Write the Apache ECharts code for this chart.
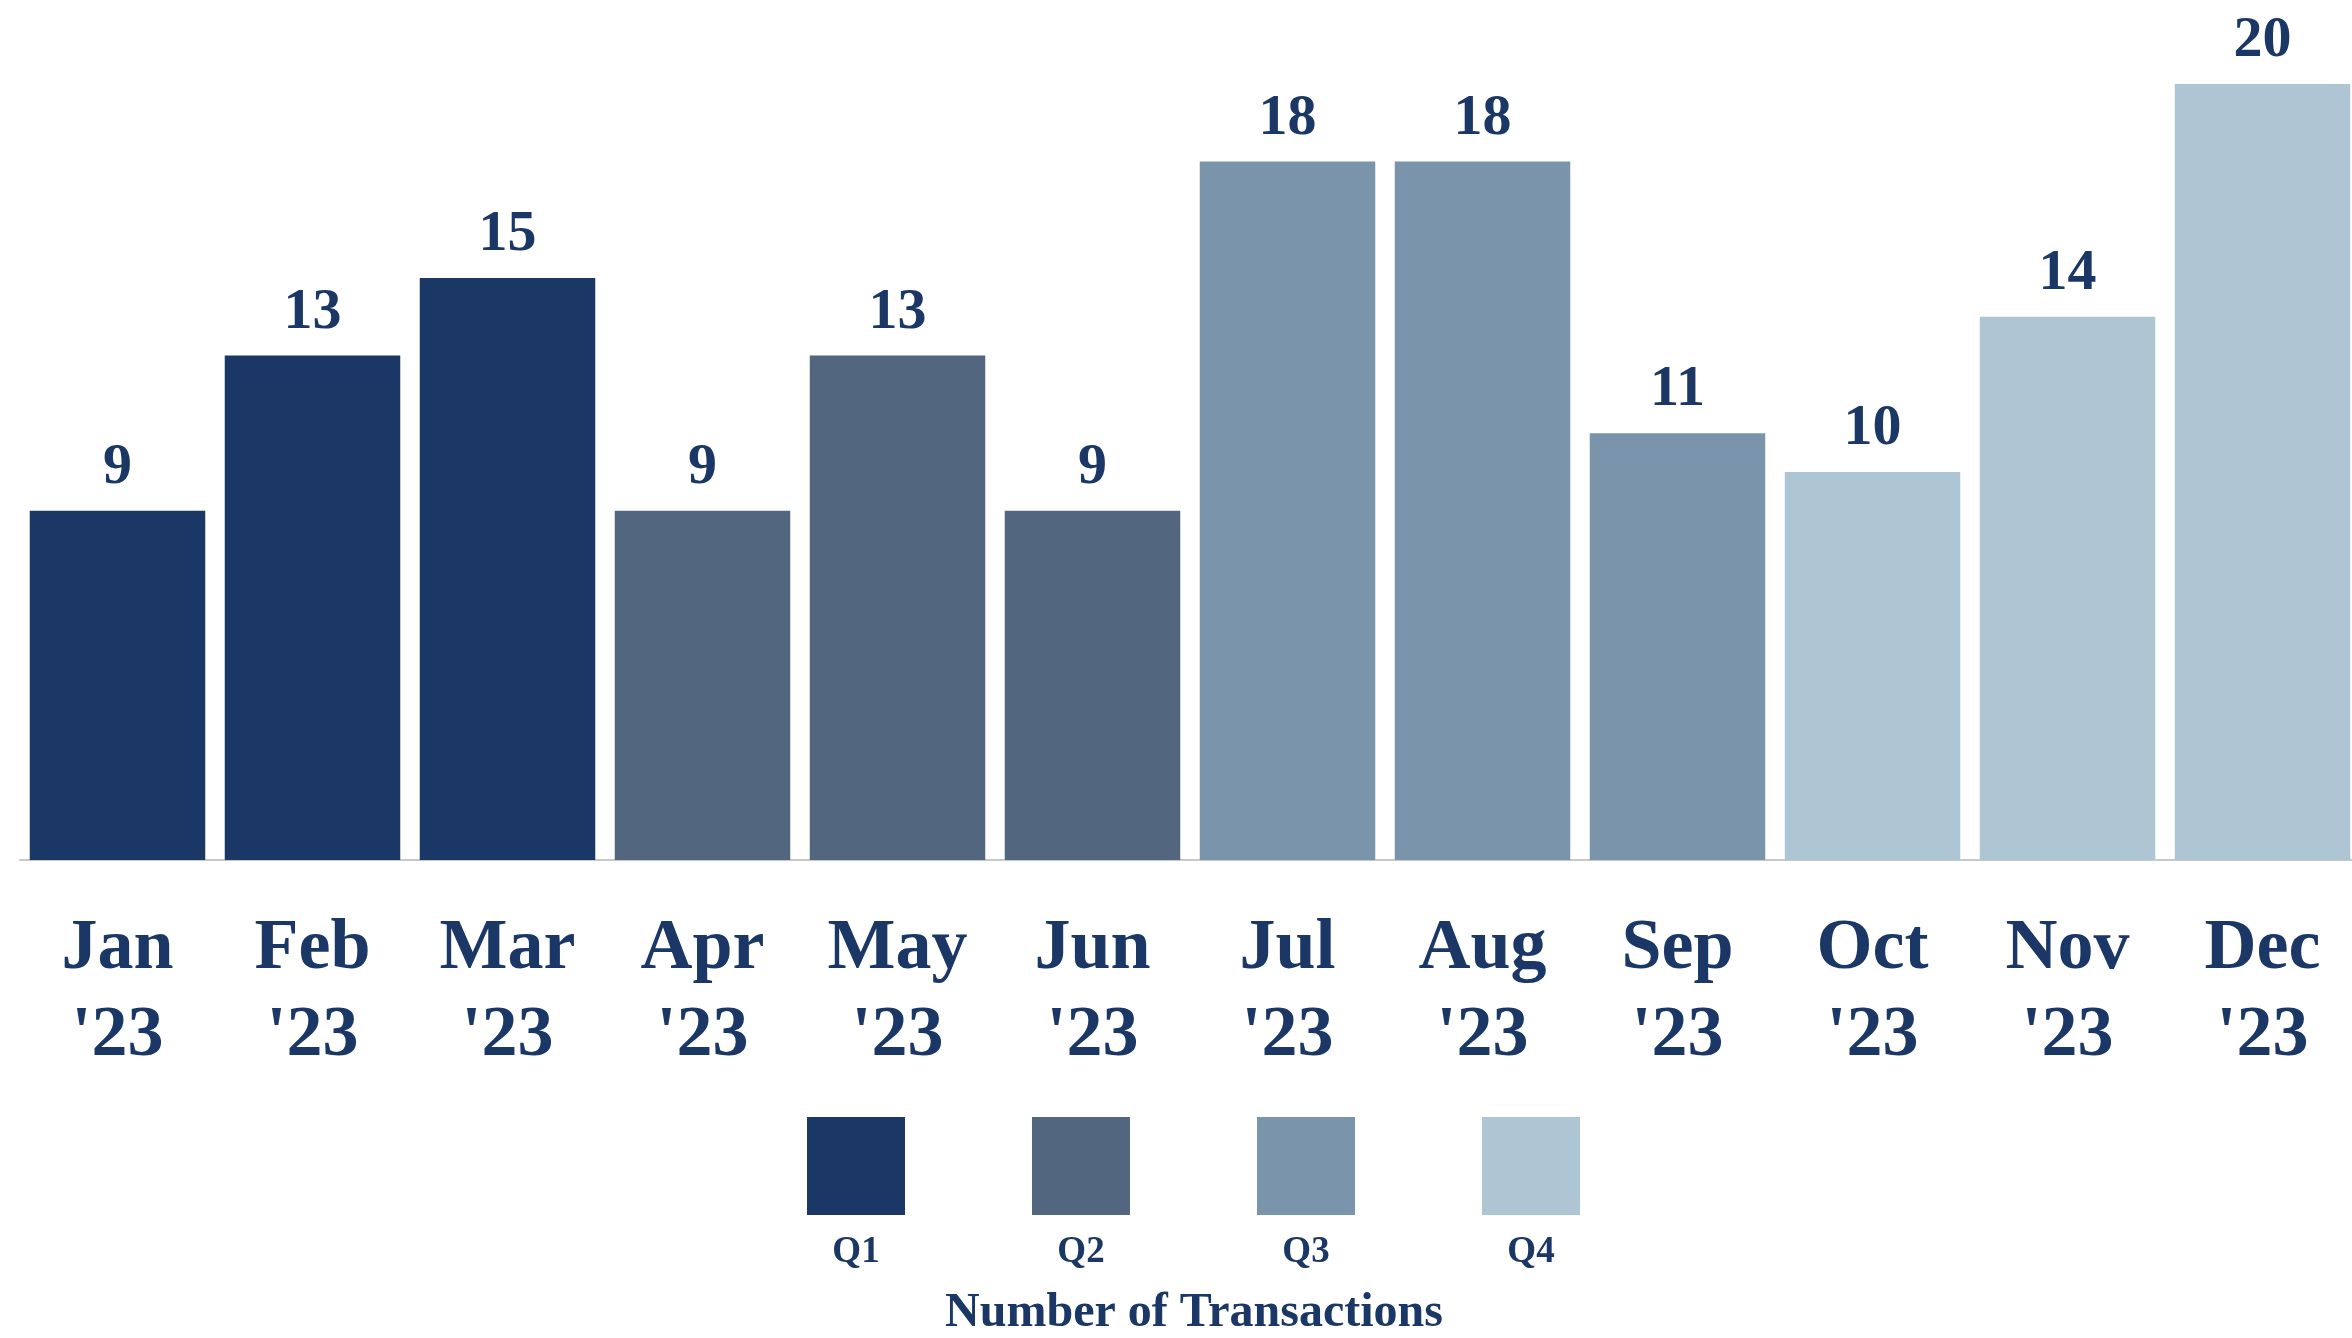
<!DOCTYPE html>
<html>
<head>
<meta charset="utf-8">
<script src="https://cdn.jsdelivr.net/npm/echarts@6/dist/echarts.min.js"></script>
<style type="text/css">
html, body{margin: 0; padding: 0; background: #fff;}
#myChart{width: 2352px; height: 1338px;}
</style>
</head>
<body>
<div id="myChart"></div>
<script>
// chart data
var months = ["Jan\n'23", "Feb\n'23", "Mar\n'23", "Apr\n'23", "May\n'23", "Jun\n'23",
              "Jul\n'23", "Aug\n'23", "Sep\n'23", "Oct\n'23", "Nov\n'23", "Dec\n'23"];
var transactions = [9, 13, 15, 9, 13, 9, 18, 18, 11, 10, 14, 20];
var quarterOf = [0, 0, 0, 1, 1, 1, 2, 2, 2, 3, 3, 3];
var quarters = ['Q1', 'Q2', 'Q3', 'Q4'];
var quarterColors = ['#1b3766', '#53667f', '#7a94ac', '#aec5d4'];

var textColor = '#1b3766';
var font = '"Liberation Serif", "DejaVu Serif", serif';

var series = quarters.map(function(q, qi){
    return {
        name: q,
        type: 'bar',
        stack: 'all',
        barCategoryGap: '10%',
        itemStyle: {color: quarterColors[qi]},
        label: {
            show: true,
            position: 'top',
            distance: 14,
            color: textColor,
            fontFamily: font,
            fontWeight: 'bold',
            fontSize: 58,
            lineHeight: 58
        },
        data: transactions.map(function(v, i){
            return quarterOf[i] === qi ? v : '-';
        })
    };
});

var options = {
    animation: false,
    backgroundColor: '#fff',
    title: {
        text: 'Number of Transactions',
        left: 1189,
        top: 1309,
        textAlign: 'center',
        textVerticalAlign: 'middle',
        textStyle: {color: textColor, fontFamily: font, fontWeight: 'bold', fontSize: 48}
    },
    legend: {
        data: quarters,
        left: 807,
        top: 1117,
        padding: 0,
        icon: 'rect',
        itemWidth: 98,
        itemHeight: 98,
        itemGap: 127,
        selectedMode: false,
        formatter: '{q|{name}}',
        textStyle: {
            color: textColor,
            fontFamily: font,
            fontWeight: 'bold',
            fontSize: 36,
            padding: [172, 103, 0, -103],
            rich: {
                q: {width: 98, align: 'center', color: textColor, fontFamily: font, fontWeight: 'bold', fontSize: 37}
            }
        }
    },
    grid: {left: 20, width: 2340, top: 84, bottom: 478, outerBoundsMode: 'none'},
    xAxis: {
        type: 'category',
        data: months,
        axisTick: {show: false},
        axisLine: {lineStyle: {color: '#c8c8c8', width: 2}},
        axisLabel: {
            margin: 46,
            color: textColor,
            fontFamily: font,
            fontWeight: 'bold',
            fontSize: 72,
            lineHeight: 87
        }
    },
    yAxis: {
        type: 'value',
        min: 0,
        max: 20,
        show: false,
        splitLine: {show: false}
    },
    series: series
};

var myChart = echarts.init(document.getElementById('myChart'));
myChart.setOption(options);
</script>
</body>
</html>
